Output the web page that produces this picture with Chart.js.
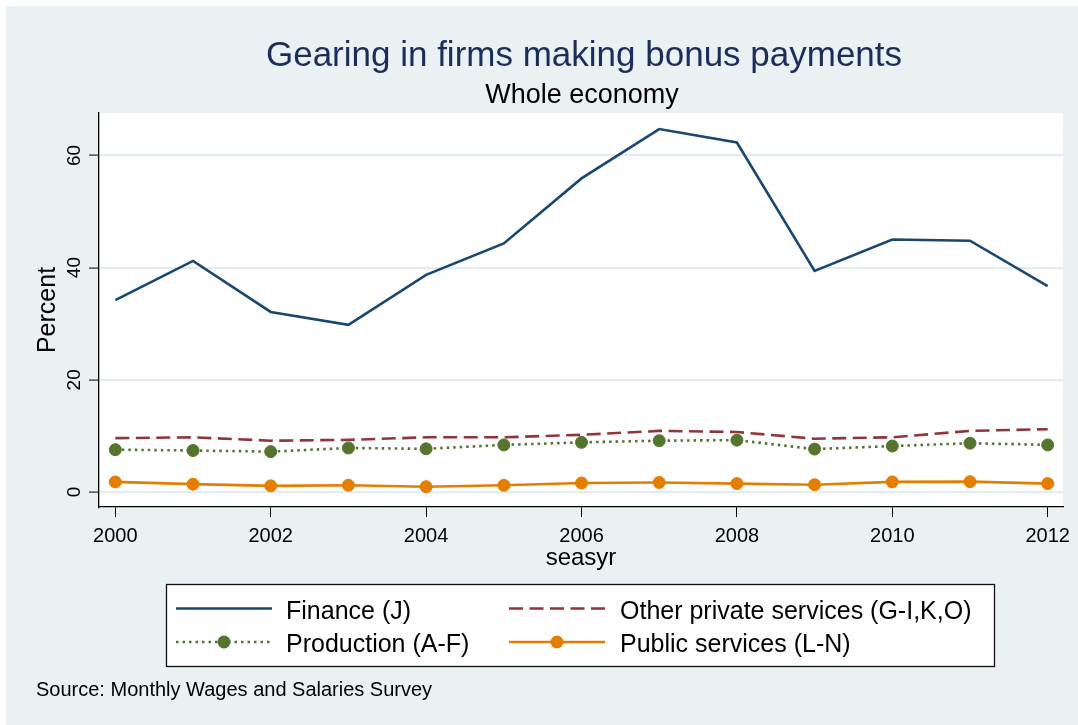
<!DOCTYPE html>
<html><head><meta charset="utf-8">
<script src="https://cdn.jsdelivr.net/npm/chart.js@4.4.1/dist/chart.umd.min.js"></script>
<style>html,body{margin:0;padding:0;background:#fff;}canvas{display:block;}</style>
</head><body>
<canvas id="c" width="1078" height="725"></canvas>
<script>
// ---- data ----
const years = [2000,2001,2002,2003,2004,2005,2006,2007,2008,2009,2010,2011,2012];
const finance = [34.2,41.2,32.1,29.8,38.7,44.3,55.9,64.7,62.3,39.4,45.0,44.8,36.7];
const otherPrivate = [9.6,9.75,9.15,9.3,9.75,9.75,10.2,10.9,10.7,9.5,9.75,10.9,11.2];
const production = [7.55,7.4,7.2,7.85,7.7,8.4,8.85,9.15,9.25,7.65,8.2,8.7,8.4];
const publicServices = [1.8,1.4,1.1,1.2,0.95,1.2,1.6,1.7,1.5,1.3,1.8,1.85,1.5];
const xTicks = [2000,2002,2004,2006,2008,2010,2012];
const yTicks = [0,20,40,60];
const seriesLabels = ['Finance (J)','Other private services (G-I,K,O)','Production (A-F)','Public services (L-N)'];
const titleText = 'Gearing in firms making bonus payments';
const subtitleText = 'Whole economy';
const xTitle = 'seasyr';
const yTitle = 'Percent';
const sourceText = 'Source: Monthly Wages and Salaries Survey';

// ---- styles ----
const FONT = '"Liberation Sans", Arial, Helvetica, sans-serif';
const BG = '#e9f1f3';
const GRID = '#e3ecef';
const C_NAVY = '#1a476f', C_MAROON = '#90353b', C_GREEN = '#55752f', C_ORANGE = '#e37e00';

const pts = arr => years.map((y, i) => ({x: y, y: arr[i]}));

const decor = {
  id: 'decor',
  beforeDraw(chart) {
    const {ctx, chartArea: a} = chart;
    ctx.save();
    ctx.fillStyle = '#ffffff';
    ctx.fillRect(0, 0, chart.width, chart.height);
    ctx.fillStyle = BG;
    ctx.fillRect(6, 6, chart.width - 6, chart.height - 6);
    ctx.fillStyle = '#ffffff';
    ctx.fillRect(a.left, a.top, a.right - a.left, a.bottom - a.top);
    ctx.restore();
  },
  afterDraw(chart) {
    const {ctx} = chart;
    ctx.save();
    // title & subtitle
    ctx.textAlign = 'center';
    ctx.textBaseline = 'alphabetic';
    ctx.fillStyle = '#1c2d5a';
    ctx.font = '35px ' + FONT;
    ctx.fillText(titleText, 584, 66);
    ctx.fillStyle = '#000';
    ctx.font = '27px ' + FONT;
    ctx.fillText(subtitleText, 582, 103);

    // y tick labels (rotated)
    const ys = chart.scales.y;
    ctx.font = '19px ' + FONT;
    ctx.fillStyle = '#000';
    ys.ticks.forEach(t => {
      const py = ys.getPixelForValue(t.value);
      ctx.save();
      ctx.translate(ys.right - 19, py);
      ctx.rotate(-Math.PI / 2);
      ctx.textAlign = 'center';
      ctx.textBaseline = 'alphabetic';
      ctx.fillText(String(t.value), 0, 0);
      ctx.restore();
    });

    // legend box
    ctx.fillStyle = '#fff';
    ctx.fillRect(166, 584, 829, 82);
    ctx.strokeStyle = '#111';
    ctx.lineWidth = 1.3;
    ctx.strokeRect(166.5, 584.5, 828, 82);
    const lineX = [176, 509], textX = [286, 620];
    const lineY = [608.5, 642], textY = [619, 652];
    chart.data.datasets.forEach((ds, i) => {
      const col = i % 2, row = Math.floor(i / 2);
      const x0 = lineX[col], x1 = x0 + 96, y = lineY[row];
      ctx.save();
      ctx.strokeStyle = ds.borderColor;
      ctx.lineWidth = ds.borderWidth;
      ctx.setLineDash(ds.borderDash || []);
      ctx.beginPath();
      ctx.moveTo(x0, y); ctx.lineTo(x1, y);
      ctx.stroke();
      ctx.setLineDash([]);
      if (ds.pointRadius > 0) {
        ctx.fillStyle = ds.pointBackgroundColor;
        ctx.beginPath();
        ctx.arc((x0 + x1) / 2, y, ds.pointRadius + 0.5, 0, Math.PI * 2);
        ctx.fill();
      }
      ctx.restore();
      ctx.fillStyle = '#000';
      ctx.font = '25px ' + FONT;
      ctx.textAlign = 'left';
      ctx.textBaseline = 'alphabetic';
      ctx.fillText(ds.label, textX[col], textY[row]);
    });

    // source note
    ctx.font = '20px ' + FONT;
    ctx.fillStyle = '#000';
    ctx.textAlign = 'left';
    ctx.fillText(sourceText, 36, 696);
    ctx.restore();
  }
};

new Chart(document.getElementById('c'), {
  type: 'line',
  data: {
    datasets: [
      {label: seriesLabels[0], data: pts(finance), borderColor: C_NAVY, borderWidth: 2.6, pointRadius: 0, tension: 0},
      {label: seriesLabels[1], data: pts(otherPrivate), borderColor: C_MAROON, borderWidth: 2.6, borderDash: [14, 6.5], pointRadius: 0, tension: 0},
      {label: seriesLabels[2], data: pts(production), borderColor: C_GREEN, borderWidth: 2.6, borderDash: [2.5, 4], borderCapStyle: 'butt',
        pointRadius: 6, pointBackgroundColor: C_GREEN, pointBorderColor: C_GREEN, pointBorderWidth: 1, tension: 0},
      {label: seriesLabels[3], data: pts(publicServices), borderColor: C_ORANGE, borderWidth: 2.6, pointRadius: 6,
        pointBackgroundColor: C_ORANGE, pointBorderColor: C_ORANGE, pointBorderWidth: 1, tension: 0}
    ]
  },
  options: {
    responsive: false,
    animation: false,
    devicePixelRatio: 1,
    layout: {padding: {top: 113, right: 15, bottom: 148, left: 0}},
    plugins: {legend: {display: false}, title: {display: false}, tooltip: {enabled: false}},
    scales: {
      x: {
        type: 'linear',
        min: 1999.79, max: 2012.197,
        afterBuildTicks: s => { s.ticks = xTicks.map(v => ({value: v})); },
        afterFit: s => { s.height = 70; s.paddingLeft = 0; s.paddingRight = 0; },
        ticks: {callback: v => String(v), color: '#000', font: {family: FONT, size: 20}, padding: 7, maxRotation: 0, minRotation: 0},
        grid: {drawOnChartArea: false, drawTicks: true, tickLength: 10, tickColor: '#000', tickWidth: 1},
        border: {display: true, color: '#000', width: 1.3},
        title: {display: true, text: xTitle, color: '#000', font: {family: FONT, size: 24}, padding: {top: 0, bottom: 4}}
      },
      y: {
        type: 'linear',
        min: -2.67, max: 67.56,
        afterBuildTicks: s => { s.ticks = yTicks.map(v => ({value: v})); },
        afterFit: s => { s.width = 99; s.paddingTop = 0; s.paddingBottom = 0; },
        ticks: {color: 'rgba(0,0,0,0)', font: {family: FONT, size: 19}},
        grid: {color: GRID, lineWidth: 2.2, drawTicks: true, tickLength: 10, tickColor: '#000', tickWidth: 1},
        border: {display: true, color: '#000', width: 1.3},
        title: {display: true, text: yTitle, color: '#000', font: {family: FONT, size: 25}, padding: {top: 33, bottom: 0}}
      }
    }
  },
  plugins: [decor]
});
</script>
</body></html>
